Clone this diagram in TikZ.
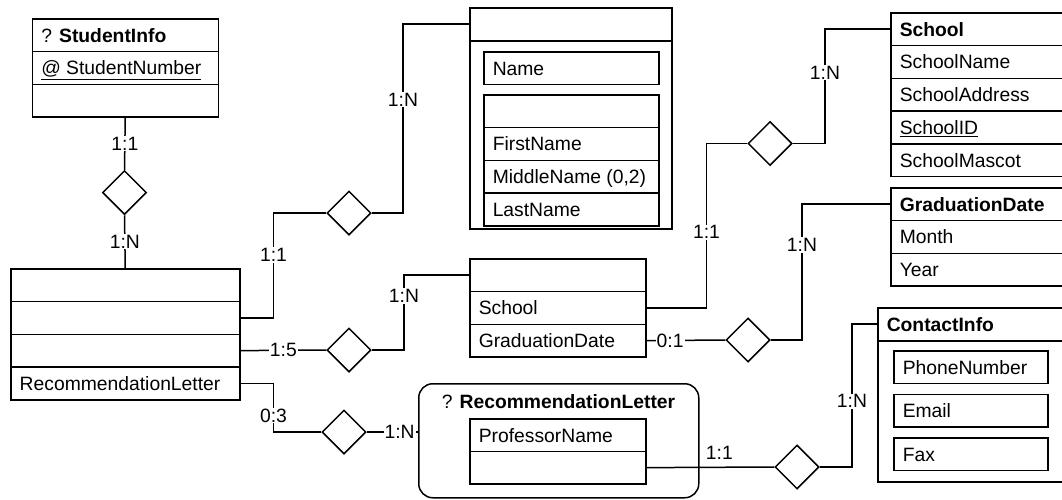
\documentclass[tikz,border=0pt]{standalone}
\usepackage{fontspec}
\setmainfont{Liberation Sans}
\usetikzlibrary{shapes.geometric}

\tikzset{
  row/.style={draw, rectangle, anchor=north west, minimum width=#1, text width={#1-18pt},
    align=flush left, minimum height=32.75pt, inner xsep=9pt, inner ysep=0pt,
    text height=17.8pt, text depth=4pt},
  box/.style={draw, rectangle, anchor=north west, inner sep=0pt},
  rel/.style={draw, diamond, aspect=1, minimum size=44pt, inner sep=0pt},
  lab/.style={fill=white, inner sep=1pt}
}

\begin{document}
\begin{tikzpicture}[x=1pt, y=-1pt, line width=1.5pt, font=\fontsize{19.3pt}{23pt}\selectfont]
        \useasboundingbox (0,0) rectangle (1062,499);
        \clip (0,0) rectangle (1062,499);
        % entities
        \foreach \t [count=\i] in {? \textbf{StudentInfo}, \underline{@ StudentNumber}, {}}
        \node[row=186pt] (si\i) at (31.5,{18+32.75*(\i-1)}) {\t};
        \foreach \t [count=\i] in {{}, {}, {}, RecommendationLetter}
        \node[row=229pt] (st\i) at (10,{268+32.75*(\i-1)}) {\t};
        \node[row=202pt] (nmh) at (469,7) {};
        \node[box, minimum width=202pt, minimum height=188pt] (nmb) at (469,40) {};
        \node[row=175pt] (nm0) at (483,51) {Name};
        \foreach \t [count=\i] in {{}, FirstName, {MiddleName (0,2)}, LastName}
        \node[row=175pt] (nc\i) at (483,{94+32.75*(\i-1)}) {\t};
        \foreach \t [count=\i] in {{}, School, GraduationDate}
        \node[row=176pt] (ed\i) at (469,{258+32.75*(\i-1)}) {\t};
        \foreach \t [count=\i] in {\textbf{School}, SchoolName, SchoolAddress, \underline{SchoolID}, SchoolMascot}
        \node[row=200pt] (sc\i) at (890,{12+32.8*(\i-1)}) {\t};
        \foreach \t [count=\i] in {\textbf{GraduationDate}, Month, Year}
        \node[row=200pt] (gd\i) at (890,{187+32.75*(\i-1)}) {\t};
        \node[row=200pt] (cih) at (877,307) {\textbf{ContactInfo}};
        \node[box, minimum width=200pt, minimum height=141pt] (cib) at (877,340) {};
        \foreach \t/\y [count=\i] in {PhoneNumber/350, Email/393.5, Fax/437}
        \node[row=154pt] (ci\i) at (893,\y) {\t};
        \node[box, rounded corners=14pt, minimum width=280pt, minimum height=114pt] (rl) at (418,383) {};
        \node[anchor=base west, inner sep=0pt] (rlt) at (441,408) {? \textbf{RecommendationLetter}};
        \foreach \t [count=\i] in {ProfessorName, {}}
        \node[row=176pt] (rl\i) at (469,{418+32.5*(\i-1)}) {\t};
        % relationships
        \node[rel] (d1) at (124.5,192.5) {};
        \node[rel] (d2) at (349,213) {};
        \node[rel] (d3) at (349,350) {};
        \node[rel] (d4) at (344,432) {};
        \node[rel] (d5) at (770,143.5) {};
        \node[rel] (d6) at (748,340) {};
        \node[rel] (d7) at (797,467) {};
        % connectors
        \draw (si3.south) -- (d1.north) node[lab, midway] {1:1};
        \draw (d1.south) -- (st1.north) node[lab, midway] {1:N};
        \draw (st2.east) -- ++(33,0) |- (d2.west) node[lab, pos=0.3] {1:1};
        \draw (d2.east) -| ([xshift=-66pt]nmh.west) node[lab, pos=0.8] {1:N} -- (nmh.west);
        \draw (st3.east) -- (d3.west) node[lab, midway] {1:5};
        \draw (d3.east) -| ([xshift=-65pt]ed1.west) node[lab, pos=0.86] {1:N} -- (ed1.west);
        \draw (st4.east) -- ++(33,0) |- (d4.west) node[lab, pos=0.33] {0:3};
        \draw (d4.east) -- (d4.east -| rl.west) node[lab, pos=0.64] {1:N};
        \draw (ed2.east) -- ++(60,0) |- (d5.west) node[lab, pos=0.23] {1:1};
        \draw (d5.east) -| ([xshift=-65pt]sc1.west) node[lab, pos=0.81] {1:N} -- (sc1.west);
        \draw (ed3.east) -- (d6.west) node[lab, pos=0.3] {0:1};
        \draw (d6.east) -| ([xshift=-88pt]gd1.west) node[lab, pos=0.85] {1:N} -- (gd1.west);
        \draw (rl2.east) -- (d7.west) node[above=5pt, inner sep=2pt, pos=0.57] {1:1};
        \draw (d7.east) -| ([xshift=-25pt]cih.west) node[lab, pos=0.73] {1:N} -- (cih.west);
\end{tikzpicture}
\end{document}
